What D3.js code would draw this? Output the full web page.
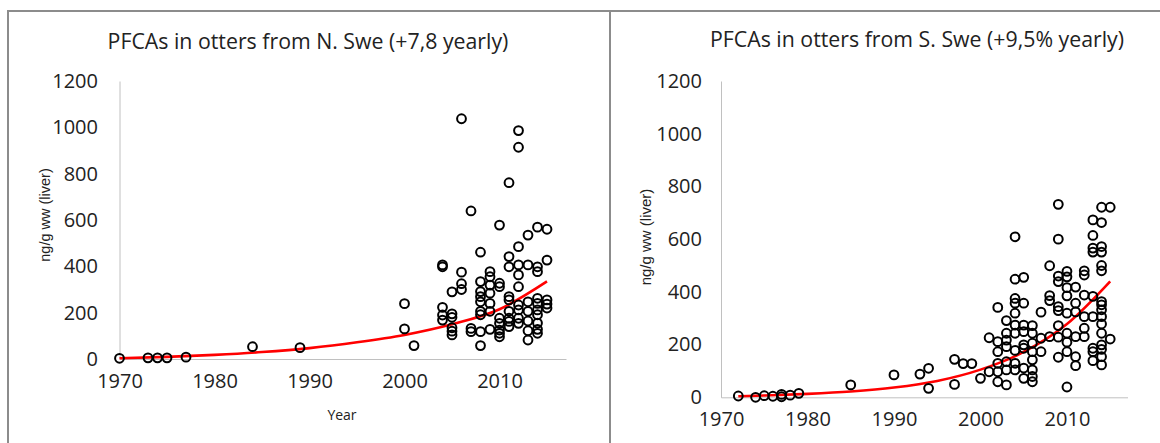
<!DOCTYPE html>
<html>
<head>
<meta charset="utf-8">
<script src="https://cdn.jsdelivr.net/npm/d3@7"></script>
<style>
  body { margin: 0; background: #fff; }
  text { font-family: "Open Sans", sans-serif; fill: #222; }
</style>
</head>
<body>
<svg width="1160" height="443"></svg>
<script>
// values: [year, ng/g ww]
const northPoints = [
  [1970, 3], [1973, 5], [1974, 5], [1975, 5], [1977, 8], [1984, 53], [1989, 49],
  [2000, 239], [2000, 130], [2001, 58],
  [2004, 406], [2004, 398], [2004, 223], [2004, 190], [2004, 168],
  [2005, 290], [2005, 195], [2005, 180], [2005, 135], [2005, 120], [2005, 104],
  [2006, 1037], [2006, 375], [2006, 325], [2006, 300],
  [2007, 639], [2007, 132], [2007, 118],
  [2008, 461], [2008, 334], [2008, 291], [2008, 269], [2008, 247], [2008, 206], [2008, 191], [2008, 118], [2008, 58],
  [2009, 377], [2009, 355], [2009, 319], [2009, 284], [2009, 240], [2009, 206], [2009, 128],
  [2010, 578], [2010, 327], [2010, 312], [2010, 176], [2010, 154], [2010, 125], [2010, 111], [2010, 96],
  [2011, 761], [2011, 442], [2011, 398], [2011, 269], [2011, 255], [2011, 206], [2011, 176], [2011, 162], [2011, 140],
  [2012, 986], [2012, 914], [2012, 485], [2012, 406], [2012, 363], [2012, 312], [2012, 233], [2012, 212], [2012, 176], [2012, 154],
  [2013, 535], [2013, 406], [2013, 247], [2013, 206], [2013, 164], [2013, 122], [2013, 82],
  [2014, 569], [2014, 398], [2014, 377], [2014, 262], [2014, 240], [2014, 212], [2014, 191], [2014, 155], [2014, 128], [2014, 111],
  [2015, 560], [2015, 427], [2015, 255], [2015, 237], [2015, 220]
];

const southPoints = [
  [1972, 5], [1974, 0], [1975, 6], [1976, 4], [1977, 11], [1977, 2], [1978, 8], [1979, 15],
  [1985, 47], [1990, 85], [1993, 88], [1994, 110], [1994, 34], [1997, 144], [1997, 49],
  [1998, 128], [1999, 128], [2000, 72], [2001, 226], [2001, 97],
  [2002, 341], [2002, 211], [2002, 173], [2002, 129], [2002, 97], [2002, 59],
  [2003, 291], [2003, 243], [2003, 217], [2003, 192], [2003, 135], [2003, 104], [2003, 47],
  [2004, 609], [2004, 448], [2004, 375], [2004, 357], [2004, 319], [2004, 274], [2004, 243], [2004, 178], [2004, 129], [2004, 104],
  [2005, 455], [2005, 357], [2005, 274], [2005, 249], [2005, 199], [2005, 186], [2005, 111], [2005, 72],
  [2006, 272], [2006, 243], [2006, 205], [2006, 173], [2006, 142], [2006, 104], [2006, 79], [2006, 59],
  [2007, 323], [2007, 224], [2007, 173],
  [2008, 499], [2008, 386], [2008, 367], [2008, 230],
  [2009, 732], [2009, 600], [2009, 460], [2009, 439], [2009, 344], [2009, 329], [2009, 272], [2009, 228], [2009, 152],
  [2010, 478], [2010, 457], [2010, 416], [2010, 385], [2010, 319], [2010, 243], [2010, 209], [2010, 173], [2010, 39],
  [2011, 418], [2011, 357], [2011, 324], [2011, 230], [2011, 154], [2011, 120],
  [2012, 480], [2012, 464], [2012, 388], [2012, 306], [2012, 262], [2012, 230],
  [2013, 673], [2013, 614], [2013, 566], [2013, 551], [2013, 383], [2013, 306], [2013, 186], [2013, 173], [2013, 139],
  [2014, 721], [2014, 663], [2014, 572], [2014, 551], [2014, 500], [2014, 480], [2014, 363], [2014, 351], [2014, 332],
  [2014, 306], [2014, 278], [2014, 243], [2014, 199], [2014, 182], [2014, 154], [2014, 123],
  [2015, 721], [2015, 221]
];

// trend curves
const northTrend = [[1970, 3], [1975, 9], [1980, 18], [1985, 30], [1990, 47], [1995, 72], [2000, 104], [2005, 150], [2010, 215], [2015, 335]];
const southTrend = [[1972, 4], [1975, 7], [1980, 13], [1985, 22], [1990, 37], [1995, 62], [2000, 105], [2005, 172], [2010, 278], [2015, 440]];

const xTicks = [1970, 1980, 1990, 2000, 2010];
const yTicks = [0, 200, 400, 600, 800, 1000, 1200];

const svg = d3.select('svg');

// panel frame
const frame = svg.append('g')
  .attr('stroke', '#8c8c8c')
  .attr('stroke-width', 2);
frame.append('line').attr('x1', 7).attr('x2', 1160).attr('y1', 11).attr('y2', 11);
frame.append('line').attr('x1', 8).attr('x2', 8).attr('y1', 10).attr('y2', 443);
frame.append('line').attr('x1', 610).attr('x2', 610).attr('y1', 10).attr('y2', 443);

function drawPanel(p) {
  const x = d3.scaleLinear().domain([1970, 2017]).range([p.left, p.right]);
  const y = d3.scaleLinear().domain([0, 1200]).range([p.bottom, 81]);
  const g = svg.append('g');

  // axes
  const yAxis = g.append('g')
    .attr('transform', `translate(${p.left},0)`)
    .call(d3.axisLeft(y).tickValues(yTicks).tickFormat(d3.format('d')).tickSize(0).tickPadding(p.left - p.yLabelRight));
  const xAxis = g.append('g')
    .attr('transform', `translate(0,${p.bottom})`)
    .call(d3.axisBottom(x).tickValues(xTicks).tickFormat(d3.format('d')).tickSize(0).tickPadding(p.xLabelPad));
  [yAxis, xAxis].forEach(a => {
    a.select('.domain').attr('stroke', '#c0c0c0').attr('stroke-width', 1);
    a.selectAll('text')
      .style('font-family', '"Open Sans", sans-serif')
      .style('font-size', '20px')
      .attr('fill', '#222');
  });

  // trend
  const trendLine = d3.line()
    .x(d => x(d[0]))
    .y(d => y(d[1]))
    .curve(d3.curveMonotoneX);
  g.append('path')
    .datum(p.trend)
    .attr('fill', 'none')
    .attr('stroke', '#ff0000')
    .attr('stroke-width', 2.6)
    .attr('d', trendLine);

  // points
  g.append('g').selectAll('circle')
    .data(p.points)
    .join('circle')
    .attr('cx', d => x(d[0]))
    .attr('cy', d => y(d[1]))
    .attr('r', 4.4)
    .attr('fill', 'none')
    .attr('stroke', '#000')
    .attr('stroke-width', 2);

  // title
  g.append('text')
    .attr('x', p.titleX)
    .attr('y', p.titleY)
    .attr('text-anchor', 'middle')
    .style('font-size', '21.3px')
    .text(p.title);

  // y label
  g.append('text')
    .attr('transform', `translate(${p.yTitleX},${p.yTitleY}) rotate(-90)`)
    .attr('text-anchor', 'middle')
    .style('font-family', '"Liberation Sans", Arial, sans-serif')
    .style('font-size', p.yTitleSize)
    .attr('fill', '#222')
    .text('ng/g ww (liver)');

  if (p.xTitle) {
    g.append('text')
      .attr('x', 342)
      .attr('y', 420)
      .attr('text-anchor', 'middle')
      .style('font-size', '14px')
      .text(p.xTitle);
  }
}

drawPanel({
  left: 119.5, right: 566, bottom: 359, yLabelRight: 98, xLabelPad: 15,
  points: northPoints, trend: northTrend,
  title: 'PFCAs in otters from N. Swe (+7,8 yearly)', titleX: 308, titleY: 49,
  yTitleX: 50, yTitleY: 215, yTitleSize: '14.5px', xTitle: 'Year'
});

drawPanel({
  left: 721, right: 1127.5, bottom: 397.3, yLabelRight: 702, xLabelPad: 15,
  points: southPoints, trend: southTrend,
  title: 'PFCAs in otters from S. Swe (+9,5% yearly)', titleX: 917, titleY: 47,
  yTitleX: 651, yTitleY: 237, yTitleSize: '15px'
});
</script>
</body>
</html>
